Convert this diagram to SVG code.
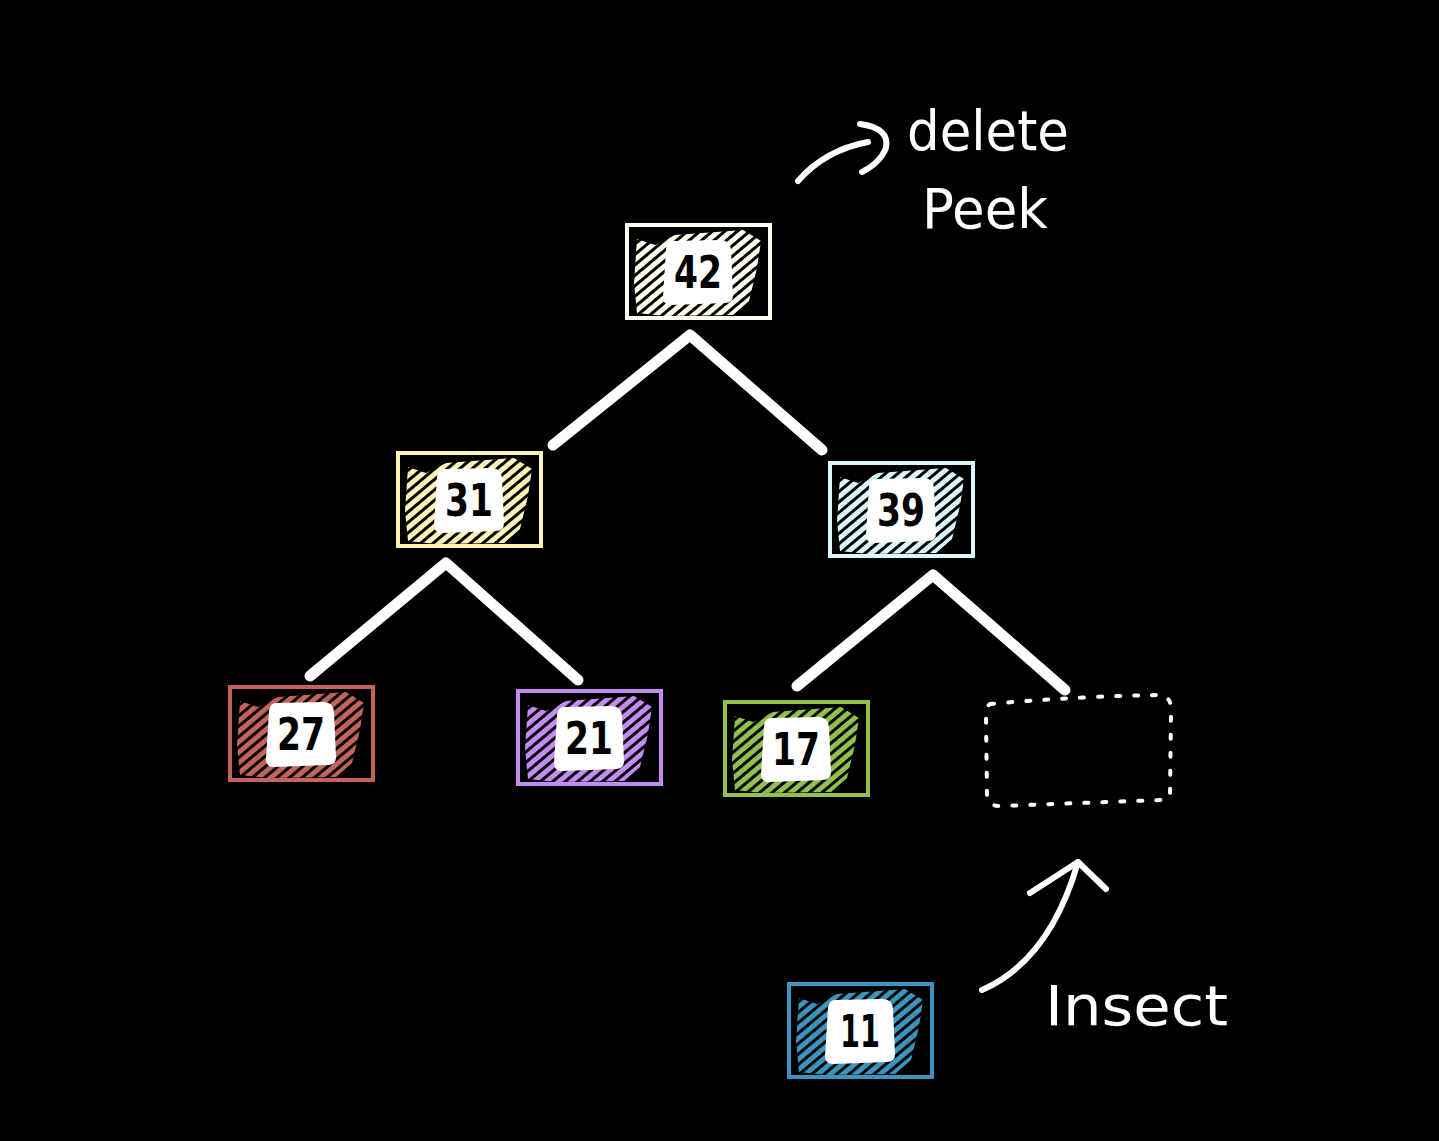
<svg xmlns="http://www.w3.org/2000/svg" width="1439" height="1141" viewBox="0 0 1439 1141">
<defs>
<pattern id="hatch" patternUnits="userSpaceOnUse" width="8" height="8" patternTransform="rotate(-40)">
<rect x="0" y="0" width="8" height="5" fill="#fff"/>
</pattern>
<mask id="m" maskUnits="userSpaceOnUse" x="0" y="0" width="1439" height="1141">
<rect x="0" y="0" width="1439" height="1141" fill="url(#hatch)"/>
</mask>
<path id="hz" d="M12,16 L30,22 L50,12 L118,7 L136,18 L132,45 L124,78 L108,92 L40,93 L12,90 L9,60 Z"/>
<path id="lb" d="M48,18 Q42,18 41,26 L38,74 Q38,82 46,82 L100,80 Q108,80 108,72 L106,27 Q105,17 96,17 Z"/>
</defs>
<style>
.bg{fill:#000}
.frame{fill:none;stroke-width:4}
.lbl{fill:#fff}
.num{font-family:"DejaVu Sans",sans-serif;font-weight:bold;font-size:44px;fill:#000;text-anchor:middle}
.edge{fill:none;stroke:#fff;stroke-width:11;stroke-linecap:round;stroke-linejoin:round}
.arr{fill:none;stroke:#fff;stroke-width:6;stroke-linecap:round;stroke-linejoin:round}
.hand{font-family:"DejaVu Sans",sans-serif;fill:#fff;font-size:56px}
</style>
<rect class="bg" x="0" y="0" width="1439" height="1141"/>

<g id="connectors">
<polyline class="edge" points="553,445 690,335 822,450"/>
<polyline class="edge" points="310,676 446,563 578,680"/>
<polyline class="edge" points="797,686 933,575 1065,690"/>
<path class="arr" d="M798,181 Q825,150 868,142"/>
<path class="arr" d="M860,124 Q890,128 886,148 Q880,163 862,172"/>
<path class="arr" d="M982,990 Q1050,960 1078,862"/>
<polyline class="arr" points="1030,893 1078,862 1106,889"/>
</g>

<g id="n42" transform="translate(625,223)">
<use href="#hz" fill="#fffdf0" mask="url(#m)"/>
<rect class="frame" x="2" y="2" width="143" height="93" stroke="#fffdf0"/>
<use href="#lb" class="lbl"/>
<text class="num" x="73" y="65" textLength="48" lengthAdjust="spacingAndGlyphs">42</text>
</g>

<g id="n31" transform="translate(396,451)">
<use href="#hz" fill="#fbf3b4" mask="url(#m)"/>
<rect class="frame" x="2" y="2" width="143" height="93" stroke="#fbf3b4"/>
<use href="#lb" class="lbl"/>
<text class="num" x="73" y="65" textLength="48" lengthAdjust="spacingAndGlyphs">31</text>
</g>

<g id="n39" transform="translate(828,461)">
<use href="#hz" fill="#d9f7fb" mask="url(#m)"/>
<rect class="frame" x="2" y="2" width="143" height="93" stroke="#d9f7fb"/>
<use href="#lb" class="lbl"/>
<text class="num" x="73" y="65" textLength="48" lengthAdjust="spacingAndGlyphs">39</text>
</g>

<g id="n27" transform="translate(228,685)">
<use href="#hz" fill="#c4635c" mask="url(#m)"/>
<rect class="frame" x="2" y="2" width="143" height="93" stroke="#c4635c"/>
<use href="#lb" class="lbl"/>
<text class="num" x="73" y="65" textLength="48" lengthAdjust="spacingAndGlyphs">27</text>
</g>

<g id="n21" transform="translate(516,689)">
<use href="#hz" fill="#c48af5" mask="url(#m)"/>
<rect class="frame" x="2" y="2" width="143" height="93" stroke="#c48af5"/>
<use href="#lb" class="lbl"/>
<text class="num" x="73" y="65" textLength="48" lengthAdjust="spacingAndGlyphs">21</text>
</g>

<g id="n17" transform="translate(723,700)">
<use href="#hz" fill="#8fc14c" mask="url(#m)"/>
<rect class="frame" x="2" y="2" width="143" height="93" stroke="#8fc14c"/>
<use href="#lb" class="lbl"/>
<text class="num" x="73" y="65" textLength="48" lengthAdjust="spacingAndGlyphs">17</text>
</g>

<g id="nEmpty">
<path d="M990,704 Q1080,696 1162,695 Q1172,698 1171,712 L1170,795 Q1168,801 1160,800 L1000,806 Q987,806 987,795 L986,718 Q986,706 990,704 Z" fill="none" stroke="#fff" stroke-width="4" stroke-linecap="round" stroke-dasharray="4 14"/>
</g>

<g id="n11" transform="translate(787,982)">
<use href="#hz" fill="#3b94bd" mask="url(#m)"/>
<rect class="frame" x="2" y="2" width="143" height="93" stroke="#3b94bd"/>
<use href="#lb" class="lbl"/>
<text class="num" x="73" y="65" textLength="40" lengthAdjust="spacingAndGlyphs">11</text>
</g>

<g id="labels">
<text class="hand" x="907" y="150" textLength="162" lengthAdjust="spacingAndGlyphs">delete</text>
<text class="hand" x="922" y="228" textLength="126" lengthAdjust="spacingAndGlyphs">Peek</text>
<text class="hand" x="1045" y="1025" textLength="183" lengthAdjust="spacingAndGlyphs">Insect</text>
</g>
</svg>
